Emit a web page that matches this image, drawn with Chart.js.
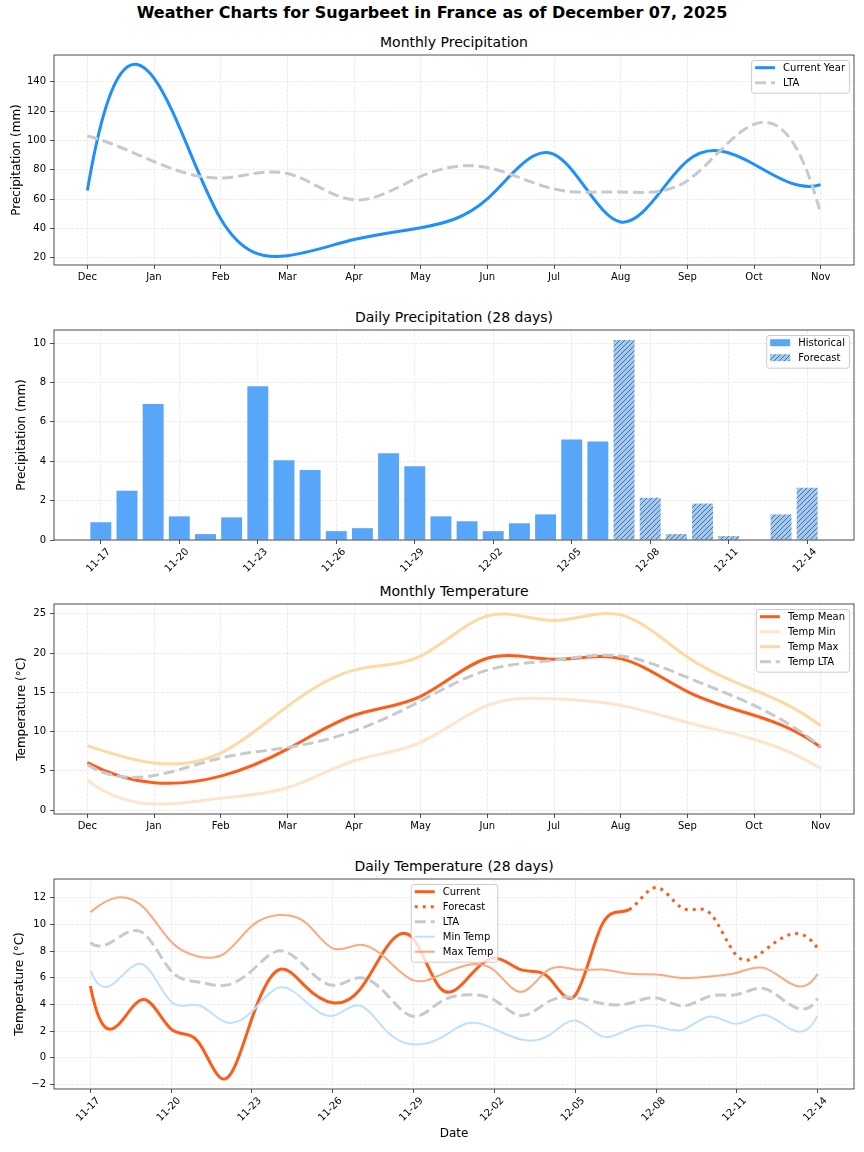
<!DOCTYPE html>
<html>
<head>
<meta charset="utf-8">
<script src="https://cdn.jsdelivr.net/npm/chart.js@4.4.1/dist/chart.umd.min.js"></script>
<style>
  html, body { margin: 0; padding: 0; background: #fff; }
  body { width: 864px; height: 1152px; position: relative; overflow: hidden; font-family: "DejaVu Sans", sans-serif; color: #000; }
  .panel { position: absolute; left: 0; width: 864px; }
  .ttl { position: absolute; left: 54px; width: 800px; text-align: center; font-size: 14px; line-height: 14px; white-space: nowrap; }
  #suptitle { position: absolute; left: 0; top: 5px; width: 864px; text-align: center; font-size: 16px; line-height: 16px; font-weight: bold; white-space: nowrap; }
</style>
</head>
<body>
<div id="suptitle">Weather Charts for Sugarbeet in France as of December 07, 2025</div>

<div class="ttl" style="top:35px">Monthly Precipitation</div>
<div class="panel" style="top:45px;height:240px"><canvas id="monthlyPrecip"></canvas></div>

<div class="ttl" style="top:310px">Daily Precipitation (28 days)</div>
<div class="panel" style="top:320px;height:260px"><canvas id="dailyPrecip"></canvas></div>

<div class="ttl" style="top:584px">Monthly Temperature</div>
<div class="panel" style="top:594px;height:240px"><canvas id="monthlyTemp"></canvas></div>

<div class="ttl" style="top:859px">Daily Temperature (28 days)</div>
<div class="panel" style="top:869px;height:280px"><canvas id="dailyTemp"></canvas></div>

<script>
// ---- data ----
const MONTHS = ['Dec', 'Jan', 'Feb', 'Mar', 'Apr', 'May', 'Jun', 'Jul', 'Aug', 'Sep', 'Oct', 'Nov'];
const precipCurrent = [65.8, 142.5, 46.6, 21.4, 32.4, 40.5, 60.2, 90.6, 44.4, 86.1, 83.8, 69.9];
const precipLTA = [103.0, 85.6, 74.4, 77.5, 59.5, 75.5, 81.6, 66.9, 64.9, 72.6, 111.0, 50.0];

const DAYS = ['11-17', '11-18', '11-19', '11-20', '11-21', '11-22', '11-23', '11-24', '11-25', '11-26',
  '11-27', '11-28', '11-29', '11-30', '12-01', '12-02', '12-03', '12-04', '12-05', '12-06',
  '12-07', '12-08', '12-09', '12-10', '12-11', '12-12', '12-13', '12-14'];
const FORECAST_START = 20; // 12-07
const rainHistorical = [0.9, 2.5, 6.9, 1.2, 0.3, 1.15, 7.8, 4.05, 3.55, 0.45, 0.6, 4.4, 3.75, 1.2, 0.95, 0.45, 0.85, 1.3, 5.1, 5.0];
const rainForecast = [10.15, 2.15, 0.3, 1.85, 0.2, 0, 1.3, 2.65];

const tempMean = [6.04, 3.48, 4.32, 7.76, 12.08, 14.5, 19.34, 19.21, 19.3, 15.1, 12.08, 8.01];
const tempMin = [3.82, 0.76, 1.51, 2.85, 6.29, 8.64, 13.34, 14.18, 13.34, 11.16, 9.02, 5.29];
const tempMax = [8.22, 6.0, 7.26, 13.21, 17.83, 19.63, 24.75, 24.16, 24.87, 19.5, 15.31, 10.74];
const tempLTA = [5.79, 4.4, 6.63, 7.97, 10.07, 13.9, 17.83, 19.09, 19.63, 16.9, 13.34, 8.1];

const dailyCurrent = [5.38, 2.4, 4.37, 2.15, 1.2, -1.6, 2.96, 6.6, 5.31, 4.12, 5.1, 8.3, 8.9, 5.2, 5.95,
  7.48, 6.59, 6.05, 4.69, 10.0];
const dailyForecast = [11.11, 12.77, 11.2, 10.85, 7.65, 8.0, 9.26, 8.2];
const dailyLTA = [8.64, 8.95, 9.3, 6.5, 5.68, 5.43, 6.54, 8.02, 6.79, 5.43, 6.0, 4.75, 3.09, 4.2, 4.72,
  4.32, 3.16, 4.2, 4.52, 4.07, 4.07, 4.49, 3.88, 4.62, 4.74, 5.19, 3.95, 4.44];
const dailyMin = [6.54, 5.8, 6.95, 4.2, 3.95, 2.68, 3.46, 5.26, 4.2, 3.15, 3.92, 1.98, 0.99, 1.48, 2.58,
  2.15, 1.36, 1.65, 2.79, 1.6, 2.15, 2.35, 2.1, 3.09, 2.54, 3.21, 2.15, 3.16];
const dailyMax = [10.91, 12.02, 11.23, 8.7, 7.6, 7.85, 9.9, 10.7, 10.12, 8.2, 8.47, 7.4, 5.8, 6.22, 6.96,
  6.54, 4.94, 6.59, 6.62, 6.62, 6.3, 6.25, 5.98, 6.1, 6.37, 6.74, 5.56, 6.3];

// ---- look ----
const C_BLUE = '#1e8fff';
const C_GREY = '#c7cacc';
const C_BAR = '#58a6f9';
const C_BAR_FC = '#9fcaf8';
const C_MEAN = '#ff5c1a';
const C_TMIN = '#ffe4ca';
const C_TMAX = '#fdd9a4';
const C_DMIN = '#bfe0ff';
const C_DMAX = '#ffa87d';
const DASH = [11, 4.8];
const DOT = [3, 5];

Chart.defaults.font.family = '"DejaVu Sans", sans-serif';
Chart.defaults.font.size = 10;
Chart.defaults.color = '#000';
Chart.defaults.animation = false;
Chart.defaults.plugins.legend.display = false;
Chart.defaults.plugins.tooltip.enabled = false;

const GRID = { color: 'rgba(176,176,176,0.3)', lineWidth: 0.8, tickColor: '#222', tickLength: 4, tickWidth: 0.8, tickBorderDash: [], offset: false };
const BORDER = { display: false, dash: [3, 1.3] };

// not-a-knot cubic spline slopes (like scipy make_interp_spline k=3)
function solve(A, b) {
  const n = b.length;
  for (let c = 0; c < n; c++) {
    let p = c;
    for (let r = c + 1; r < n; r++) if (Math.abs(A[r][c]) > Math.abs(A[p][c])) p = r;
    [A[c], A[p]] = [A[p], A[c]]; [b[c], b[p]] = [b[p], b[c]];
    for (let r = c + 1; r < n; r++) {
      const f = A[r][c] / A[c][c];
      for (let k = c; k < n; k++) A[r][k] -= f * A[c][k];
      b[r] -= f * b[c];
    }
  }
  const x = new Array(n).fill(0);
  for (let r = n - 1; r >= 0; r--) {
    let s = b[r];
    for (let k = r + 1; k < n; k++) s -= A[r][k] * x[k];
    x[r] = s / A[r][r];
  }
  return x;
}

function splineSlopes(xs, ys) {
  const n = xs.length;
  const h = [];
  for (let i = 0; i < n - 1; i++) h.push(xs[i + 1] - xs[i]);
  const A = Array.from({ length: n }, () => new Array(n).fill(0));
  const b = new Array(n).fill(0);
  A[0][0] = h[1]; A[0][1] = -(h[0] + h[1]); A[0][2] = h[0];
  for (let i = 1; i < n - 1; i++) {
    A[i][i - 1] = h[i - 1]; A[i][i] = 2 * (h[i - 1] + h[i]); A[i][i + 1] = h[i];
    b[i] = 6 * ((ys[i + 1] - ys[i]) / h[i] - (ys[i] - ys[i - 1]) / h[i - 1]);
  }
  A[n - 1][n - 3] = h[n - 2]; A[n - 1][n - 2] = -(h[n - 3] + h[n - 2]); A[n - 1][n - 1] = h[n - 3];
  const M = solve(A, b);
  const d = [];
  for (let i = 0; i < n - 1; i++) d.push((ys[i + 1] - ys[i]) / h[i] - h[i] * (2 * M[i] + M[i + 1]) / 6);
  d.push((ys[n - 1] - ys[n - 2]) / h[n - 2] + h[n - 2] * (M[n - 2] + 2 * M[n - 1]) / 6);
  return d;
}

// replace Chart.js bezier control points by spline ones
const splinePlugin = {
  id: 'spline',
  beforeDatasetDraw(chart, args) {
    const meta = args.meta;
    if (meta.type !== 'line' || !meta.dataset) return;
    const pts = meta.data;
    if (pts.length < 4) return;
    meta.dataset.updateControlPoints(chart.chartArea, 'x');
    const xs = pts.map(p => p.x), ys = pts.map(p => p.y);
    const d = splineSlopes(xs, ys);
    pts.forEach((p, i) => {
      const hp = i > 0 ? xs[i] - xs[i - 1] : 0;
      const hn = i < pts.length - 1 ? xs[i + 1] - xs[i] : 0;
      p.cp1x = xs[i] - hp / 3; p.cp1y = ys[i] - d[i] * hp / 3;
      p.cp2x = xs[i] + hn / 3; p.cp2y = ys[i] + d[i] * hn / 3;
    });
    meta.dataset._path = undefined;
  }
};

const framePlugin = {
  id: 'frame',
  afterDatasetsDraw(chart) {
    const { ctx, chartArea: a } = chart;
    ctx.save();
    ctx.strokeStyle = '#222';
    ctx.lineWidth = 0.8;
    ctx.strokeRect(a.left, a.top, a.right - a.left, a.bottom - a.top);
    ctx.restore();
  }
};

// matplotlib-like legend inside the axes
const legendPlugin = {
  id: 'mplLegend',
  afterDraw(chart, args, opts) {
    const { ctx, chartArea: a } = chart;
    const items = chart.data.datasets;
    ctx.save();
    ctx.font = '10px "DejaVu Sans"';
    const textW = Math.max(...items.map(d => ctx.measureText(d.label).width));
    const w = 4 + 20 + 8 + textW + 4;
    const h = 7.7 + 15 * (items.length - 1) + 10;
    const x0 = opts.loc === 'center' ? (a.left + a.right) / 2 - w / 2 : a.right - 5 - w;
    const y0 = a.top + 5;
    ctx.beginPath();
    ctx.roundRect(x0 + 0.5, y0 + 0.5, w, h, 2.5);
    ctx.fillStyle = 'rgba(255,255,255,0.8)';
    ctx.fill();
    ctx.strokeStyle = '#cccccc';
    ctx.lineWidth = 1;
    ctx.stroke();
    items.forEach((d, i) => {
      const cy = y0 + 7.7 + 15 * i;
      if (d.type === 'bar') {
        ctx.fillStyle = d.backgroundColor;
        ctx.fillRect(x0 + 4, cy - 3.5, 20, 7);
      } else {
        ctx.beginPath();
        ctx.setLineDash(d.borderDash || []);
        ctx.strokeStyle = d.borderColor;
        ctx.lineWidth = d.borderWidth;
        ctx.moveTo(x0 + 4, cy);
        ctx.lineTo(x0 + 24, cy);
        ctx.stroke();
        ctx.setLineDash([]);
      }
      ctx.fillStyle = '#000';
      ctx.textBaseline = 'middle';
      ctx.textAlign = 'left';
      ctx.fillText(d.label, x0 + 32, cy + 0.5);
    });
    ctx.restore();
  }
};

function hatchPattern(bg) {
  const c = document.createElement('canvas');
  c.width = c.height = 10;
  const g = c.getContext('2d');
  g.fillStyle = bg;
  g.fillRect(0, 0, 10, 10);
  g.strokeStyle = '#222';
  g.lineWidth = 0.55;
  g.beginPath();
  for (let k = -10; k <= 10; k += 5) { g.moveTo(k, 10); g.lineTo(k + 10, 0); }
  g.stroke();
  return g.createPattern(c, 'repeat');
}

const xy = (vals, start = 0) => vals.map((v, i) => ({ x: start + i, y: v }));
const range = (a, b, s) => { const r = []; for (let v = a; v <= b + 1e-9; v += s) r.push(v); return r; };

function lineDs(label, data, color, width, dash, order) {
  return {
    type: 'line', label, data, borderColor: color, borderWidth: width, borderDash: dash || [],
    pointRadius: 0, tension: 0.4, fill: false, order, borderJoinStyle: 'round'
  };
}

function yAxis(min, max, ticks, title, pad) {
  return {
    type: 'linear', min, max,
    afterFit: s => { s.width = 54; },
    afterBuildTicks: s => { s.ticks = ticks.map(v => ({ value: v })); },
    ticks: { padding: 4, callback: v => String(v).replace('-', '\u2212') },
    grid: GRID, border: BORDER,
    title: { display: true, text: title, font: { size: 12 }, padding: { top: pad, bottom: 0 } }
  };
}

function xAxis(min, max, ticks, labels, height, rotated, title) {
  const ax = {
    type: 'linear', min, max, offset: false,
    afterFit: s => { s.height = height; },
    afterBuildTicks: s => { s.ticks = ticks.map(v => ({ value: v })); },
    ticks: {
      autoSkip: false, padding: 2,
      minRotation: rotated ? 45 : 0, maxRotation: rotated ? 45 : 0,
      labelOffset: rotated ? 8 : 0,
      callback: v => labels[Math.round(v)]
    },
    grid: GRID, border: BORDER
  };
  if (title) ax.title = { display: true, text: title, font: { size: 12 }, padding: { top: 0, bottom: 8 } };
  return ax;
}

function makeChart(id, type, datasets, scales, legendLoc) {
  return new Chart(document.getElementById(id), {
    type,
    data: { datasets },
    options: {
      responsive: true, maintainAspectRatio: false, animation: false,
      layout: { padding: { top: 8, right: 10, left: 0, bottom: 0 } },
      scales,
      plugins: { mplLegend: { loc: legendLoc } }
    },
    plugins: [splinePlugin, framePlugin, legendPlugin]
  });
}

const monthTicks = range(0, 11, 1);
const dayTicks = range(0, 27, 3);

makeChart('monthlyPrecip', 'line', [
  lineDs('Current Year', xy(precipCurrent), C_BLUE, 3, null, 2),
  lineDs('LTA', xy(precipLTA), C_GREY, 3, DASH, 1)
], {
  x: xAxis(-0.5, 11.5, monthTicks, MONTHS, 20, false),
  y: yAxis(15.06, 158.3, range(20, 140, 20), 'Precipitation (mm)', 9.5)
}, 'right');

makeChart('dailyPrecip', 'bar', [
  { type: 'bar', label: 'Historical', data: xy(rainHistorical), backgroundColor: C_BAR,
    barPercentage: 0.8, categoryPercentage: 1, grouped: false, order: 2 },
  { type: 'bar', label: 'Forecast', data: xy(rainForecast, FORECAST_START), backgroundColor: hatchPattern(C_BAR_FC),
    barPercentage: 0.8, categoryPercentage: 1, grouped: false, order: 1 }
], {
  x: xAxis(-1.79, 28.79, dayTicks, DAYS, 40, true),
  y: yAxis(0, 10.66, range(0, 10, 2), 'Precipitation (mm)', 14.5)
}, 'right');

makeChart('monthlyTemp', 'line', [
  lineDs('Temp Mean', xy(tempMean), C_MEAN, 3, null, 4),
  lineDs('Temp Min', xy(tempMin), C_TMIN, 3, null, 3),
  lineDs('Temp Max', xy(tempMax), C_TMAX, 3, null, 2),
  lineDs('Temp LTA', xy(tempLTA), C_GREY, 3, DASH, 1)
], {
  x: xAxis(-0.5, 11.5, monthTicks, MONTHS, 20, false),
  y: yAxis(-0.5, 26.26, range(0, 25, 5), 'Temperature (\u00b0C)', 14.5)
}, 'right');

// one smooth curve through history + forecast, dotted from the forecast start on
const currentDs = lineDs('Current', xy(dailyCurrent.concat(dailyForecast)), C_MEAN, 3, null, 5);
currentDs.segment = { borderDash: c => (c.p0DataIndex >= FORECAST_START ? DOT : undefined) };
const forecastDs = lineDs('Forecast', xy(dailyForecast, FORECAST_START), C_MEAN, 3, DOT, 4);
forecastDs.showLine = false; // drawn as the dotted tail of "Current"

makeChart('dailyTemp', 'line', [
  currentDs,
  forecastDs,
  lineDs('LTA', xy(dailyLTA), C_GREY, 3, DASH, 3),
  lineDs('Min Temp', xy(dailyMin), C_DMIN, 2, null, 2),
  lineDs('Max Temp', xy(dailyMax), C_DMAX, 2, null, 1)
], {
  x: xAxis(-1.35, 28.35, dayTicks, DAYS, 60, true, 'Date'),
  y: yAxis(-2.35, 13.41, range(-2, 12, 2), 'Temperature (\u00b0C)', 12.8)
}, 'center');
</script>
</body>
</html>
